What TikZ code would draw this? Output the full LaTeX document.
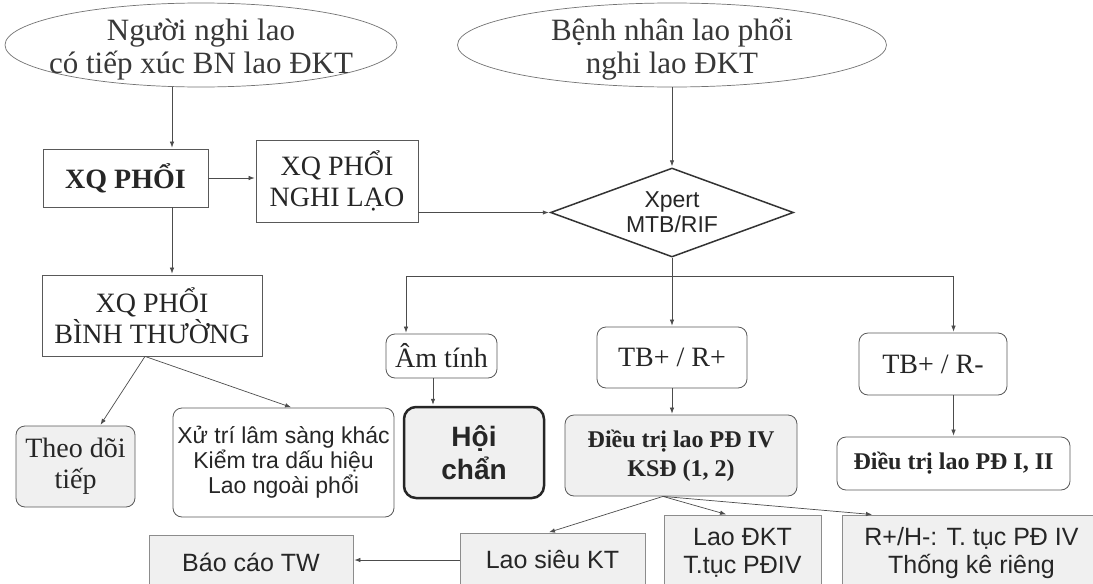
\documentclass[tikz,border=0pt]{standalone}
\usepackage{fontspec}
\setmainfont{Liberation Serif}
\newfontfamily\sanslib{Liberation Sans}
\usepackage{tikz}
\newcommand\ovaltext{\fontsize{31}{33}\selectfont}
\newcommand\boxtext{\fontsize{28}{31}\selectfont}
\newcommand\treattext{\fontsize{24}{29}\selectfont\bfseries}
\newcommand\labtext{\sanslib\fontsize{25}{28}\selectfont}
\newcommand\checktext{\sanslib\fontsize{23}{25}\selectfont}
\usetikzlibrary{
  arrows.meta,
  positioning,
  shapes.geometric,
}
\tikzset{
  >={Latex[length=6pt,width=4.5pt]},
  shorten >=1pt,
  conn/.style={draw=black!70,line width=0.7pt},
  arr/.style={conn,->},
  oval/.style={draw=black!55,line width=0.7pt,ellipse,inner sep=0pt},
  sqbox/.style={draw=black!65,line width=0.8pt,rectangle,inner sep=0pt,align=center,text=black!85},
  rbox/.style={sqbox,rounded corners=9pt},
  shade/.style={fill=black!6},
}

\begin{document}
\begin{tikzpicture}[x=1pt,y=-1pt]
      \useasboundingbox[fill=white] (0,0) rectangle (1093,584);

      \node[oval,minimum width=392,minimum height=84]    (e1)  at (201,45)    {};
      \node[align=center,font=\ovaltext,text=black!78]    (e1text)  at ([yshift=-5]e1.center)    {Người nghi lao\\có tiếp xúc BN lao ĐKT};
      \node[oval,minimum width=429,minimum height=84]    (e2)  at (672,45)    {};
      \node[align=center,font=\ovaltext,text=black!78]    (e2text)  at ([yshift=-4]e2.center)    {Bệnh nhân lao phổi\\nghi lao ĐKT};

      \node[sqbox,minimum width=165,minimum height=58,font=\boxtext\bfseries]    (xqp)  at (125.5,178)    {XQ PHỔI};
      \node[sqbox,minimum width=162,minimum height=82,font=\boxtext]    (xqnl)  at (337,181)    {XQ PHỔI\\NGHI LẠO};
      \node[draw=black!80,line width=1.5pt,diamond,aspect=2.7,inner sep=0pt,minimum width=243,minimum height=89,align=center,font=\checktext,text=black!85]    (xpert)  at (672,212.5)    {Xpert\\MTB/RIF};

      \node[sqbox,minimum width=220,minimum height=81,font=\boxtext]    (xqbt)  at (152,315.5)    {XQ PHỔI\\BÌNH THƯỜNG};
      \node[rbox,shade,minimum width=119,minimum height=81,font=\boxtext]    (theo)  at (75.5,466.5)    {Theo dõi\\tiếp};
      \node[rbox,minimum width=221,minimum height=109,font=\checktext]    (xuly)  at (283.5,462.5)    {Xử trí lâm sàng khác\\Kiểm tra dấu hiệu\\Lao ngoài phổi};

      \node[rbox,minimum width=111,minimum height=44,font=\boxtext]    (am)  at (441.5,356)    {Âm tính};
      \node[rbox,shade,draw=black!85,line width=2.5pt,rounded corners=12pt,minimum width=140,minimum height=91,font=\sanslib\fontsize{28}{33}\selectfont\bfseries]    (hoi)  at (474,452.5)    {Hội\\chẩn};

      \node[rbox,minimum width=150,minimum height=61,font=\boxtext]    (tbrp)  at (672,357.5)    {TB+ / R+};
      \node[rbox,shade,minimum width=232,minimum height=81,font=\treattext]    (dt4)  at (681,455.5)    {Điều trị lao PĐ IV\\KSĐ (1, 2)};
      \node[rbox,minimum width=148,minimum height=62,font=\boxtext]    (tbrm)  at (933,364)    {TB+ / R-};
      \node[rbox,minimum width=233,minimum height=53,font=\treattext]    (dt12)  at (953.5,463.5)    {Điều trị lao PĐ I, II};

      \node[sqbox,shade,draw=black!45,minimum width=204,minimum height=54,font=\labtext]    (bctw)  at (251,562)    {Báo cáo TW};
      \node[sqbox,shade,draw=black!45,minimum width=185,minimum height=54,font=\labtext]    (lsk)  at (552.5,560)    {Lao siêu KT};
      \node[sqbox,shade,draw=black!45,minimum width=157,minimum height=76,font=\labtext]    (ldkt)  at (742.5,553)    {Lao ĐKT\\T.tục PĐIV};
      \node[sqbox,shade,draw=black!45,minimum width=259,minimum height=76,font=\labtext]    (rh)  at (971.5,553)    {R+/H-: T. tục PĐ IV\\Thống kê riêng};

      \coordinate (e1out) at ([xshift=46.5]xqp.north);
      \draw[arr] (e1out |- e1.south) -- (e1out);
      \draw[arr] (xqp.east) -- (xqp.east -| xqnl.west);
      \draw[arr] (xqnl.east |- xpert.west) -- (xpert.west);
      \draw[arr] (e2.south) -- (xpert.north);

      \coordinate (bus) at ([yshift=-19]xpert.south);
      \coordinate (amin) at ([xshift=-35.5]am.north);
      \coordinate (rmin) at ([xshift=20.5]tbrm.north);
      \draw[conn] (xpert.south) -- (bus);
      \draw[arr] (bus) -| (amin);
      \draw[arr] (bus) -- (tbrp.north);
      \draw[arr] (bus) -| (rmin);

      \coordinate (amout) at ([xshift=-8.5]am.south);
      \draw[arr] (amout) -- (amout |- hoi.north);
      \draw[arr] (tbrp.south) -- (tbrp.south |- dt4.north);
      \draw[arr] (dt12.north |- tbrm.south) -- (dt12.north);

      \coordinate (xqin) at ([xshift=20]xqbt.north);
      \draw[arr] (xqp.south -| xqin) -- (xqin);
      \coordinate (btout) at ([xshift=-7]xqbt.south);
      \draw[arr] (btout) -- ([xshift=24.5]theo.north);
      \draw[arr] (btout) -- ([xshift=8.5]xuly.north);

      \coordinate (dtout) at ([xshift=-18]dt4.south);
      \draw[arr] (dtout) -- ([xshift=-4.5]lsk.north);
      \draw[arr] (dtout) -- ([xshift=-15.5]ldkt.north);
      \draw[arr] (dtout) -- ([xshift=-98.5]rh.north);
      \draw[arr] (lsk.west) -- (lsk.west -| bctw.east);

\end{tikzpicture}
\end{document}
